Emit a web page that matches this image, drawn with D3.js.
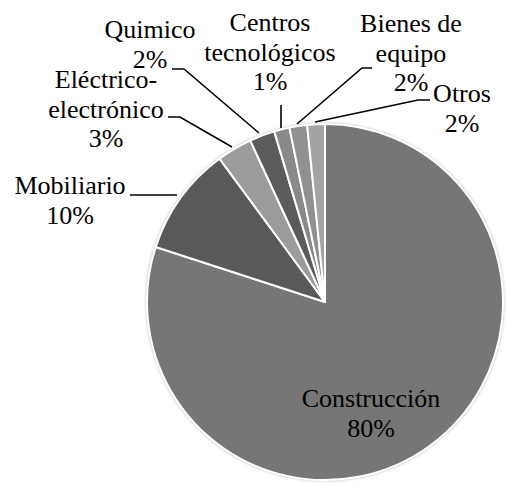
<!DOCTYPE html>
<html>
<head>
<meta charset="utf-8">
<script src="https://cdn.jsdelivr.net/npm/d3@7"></script>
</head>
<body style="margin:0">
<script>
const categories = ["Construcción", "Mobiliario", "Eléctrico-electrónico", "Quimico", "Centros tecnológicos", "Bienes de equipo", "Otros"];
const values = [80.0, 9.9, 3.2, 2.3, 1.4, 1.6, 1.6];
const percentLabels = ["80%", "10%", "3%", "2%", "1%", "2%", "2%"];
const labelLines = [["Construcción"], ["Mobiliario"], ["Eléctrico-", "electrónico"], ["Quimico"], ["Centros", "tecnológicos"], ["Bienes de", "equipo"], ["Otros"]];
const colors = ["#767676", "#595959", "#9b9b9b", "#5b5b5b", "#898989", "#909090", "#a3a3a3"];

const W = 506, H = 487;
const cx = 325, cy = 302, R = 178;

const svg = d3.select("body").append("svg").attr("width", W).attr("height", H).style("display", "block");

const defs = svg.append("defs");
const f = defs.append("filter").attr("id", "soft").attr("x", "-10%").attr("y", "-10%").attr("width", "120%").attr("height", "120%");
f.append("feGaussianBlur").attr("stdDeviation", 1.5);

const data = categories.map((c, i) => ({ cat: c, value: values[i], color: colors[i], pct: percentLabels[i], lines: labelLines[i] }));

const pie = d3.pie().value(d => d.value).sort(null);
const arcs = pie(data);
const arc = d3.arc().innerRadius(0).outerRadius(R);

const g = svg.append("g").attr("transform", `translate(${cx},${cy})`);

g.append("circle").attr("r", R + 1).attr("fill", "#bbb").attr("filter", "url(#soft)");

g.selectAll("path.slice").data(arcs).join("path")
  .attr("class", "slice")
  .attr("d", arc)
  .attr("fill", d => d.data.color)
  .attr("stroke", "#fff")
  .attr("stroke-width", 2)
  .attr("stroke-linejoin", "round");

const labelPos = [
  { x: 371, y: 407, line: null },
  { x: 70, y: 194, line: [[130, 195], [177, 195]] },
  { x: 106, y: 88, line: [[168, 117], [180, 117], [232, 147]] },
  { x: 150, y: 38, line: [[172, 69], [184, 69], [259, 133]] },
  { x: 270, y: 31, line: [[281, 105], [281, 128]] },
  { x: 411, y: 32, line: [[372, 68], [362, 68], [297, 124]] },
  { x: 462, y: 102, line: [[430, 100], [418, 100], [315, 122]] }
];

const lh = 29.5;

data.forEach((d, i) => {
  const p = labelPos[i];
  if (p.line) {
    svg.append("path")
      .attr("d", d3.line()(p.line))
      .attr("fill", "none")
      .attr("stroke", "#000")
      .attr("stroke-width", 1.6);
  }
  const lines = d.lines.concat([d.pct]);
  lines.forEach((ln, k) => {
    svg.append("text")
      .attr("x", p.x).attr("y", p.y + k * lh)
      .attr("text-anchor", "middle")
      .attr("font-family", "Liberation Serif, Times New Roman, serif")
      .style("font-family", '"Liberation Serif", "Times New Roman", serif', "important")
      .style("font-size", "26px", "important")
      .text(ln);
  });
});
</script>
</body>
</html>
